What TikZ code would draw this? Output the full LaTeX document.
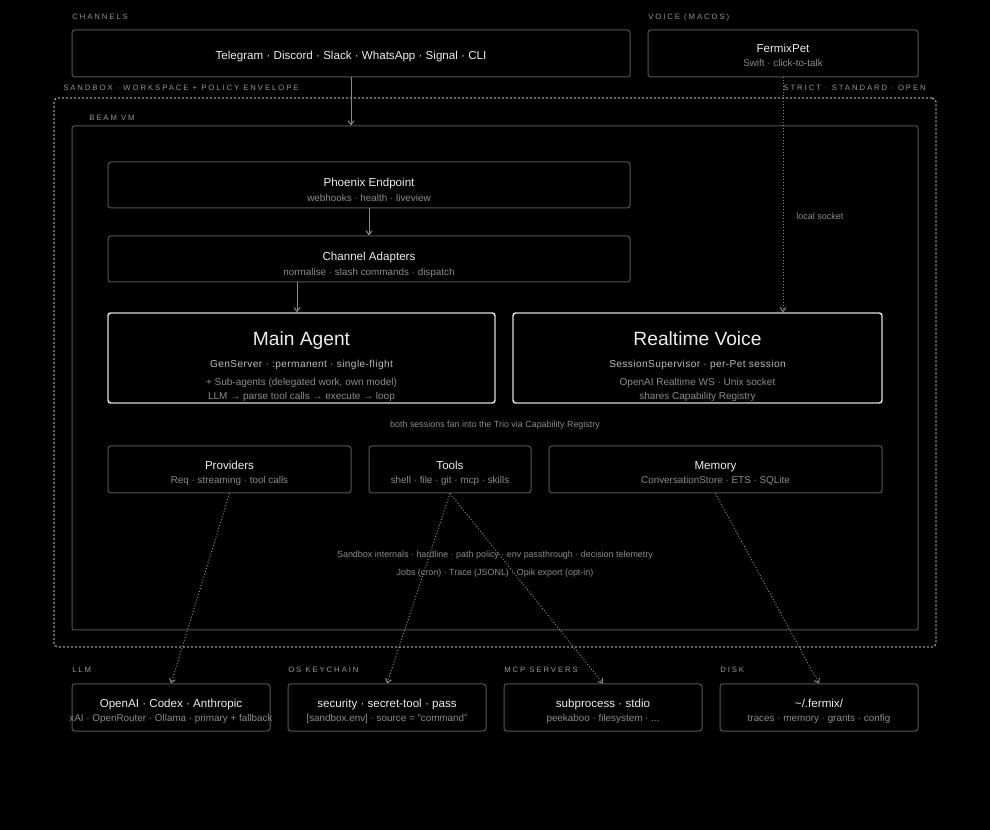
\documentclass[tikz,border=0pt]{standalone}
\usepackage{fontspec}
\setmainfont{Liberation Sans}
\newfontfamily\tagfont[LetterSpace=25]{Liberation Sans}
\newfontfamily\widefont[LetterSpace=4]{Liberation Sans}
\usepackage{xcolor}
\usetikzlibrary{arrows.meta,positioning,calc,fit}

\definecolor{edge}{HTML}{555555}
\definecolor{bright}{HTML}{DDDDDD}
\definecolor{fg}{HTML}{EDEDED}
\definecolor{dim}{HTML}{8C8C8C}
\definecolor{tagc}{HTML}{969696}
\definecolor{wire}{HTML}{8A8A8A}
\definecolor{subhi}{HTML}{BBBBBB}
\definecolor{envelope}{HTML}{9A9A9A}

\begin{document}
\begin{tikzpicture}[
  x=0.75pt, y=-0.75pt,
  box/.style={draw=edge, line width=0.75pt, rounded corners=2pt, inner sep=0pt},
  core/.style={box, draw=bright, line width=1.1pt},
  ttl/.style={anchor=base, text=fg, inner sep=0pt, font=\fontsize{8.7}{10}\selectfont},
  big/.style={anchor=base, text=fg, inner sep=0pt, font=\fontsize{14.4}{16}\selectfont},
  sub/.style={anchor=base, text=dim, inner sep=0pt, font=\fontsize{7.4}{9}\selectfont},
  subhead/.style={anchor=base, text=subhi, inner sep=0pt, font=\widefont\fontsize{7.6}{9}\selectfont},
  note/.style={anchor=base, text=dim, inner sep=0pt, font=\fontsize{6.7}{9}\selectfont},
  tag/.style={anchor=base west, text=tagc, inner sep=0pt, font=\tagfont\fontsize{5.8}{7}\selectfont},
  arr/.style={-{Straight Barb[length=3pt,width=4.5pt]}, draw=wire, line width=0.75pt},
  dotarr/.style={arr, dash pattern=on 0.75pt off 1.5pt}
]

\fill[black] (0,0) rectangle (990,830);
\useasboundingbox (0,0) rectangle (990,830);

% outer frames
\node[draw=envelope, line width=1pt, dash pattern=on 1.5pt off 1.5pt, rounded corners=3pt, inner sep=0pt, fit={(54,98) (936,647)}] (sandbox) {};
\node[box, rounded corners=1.5pt, fit={(72,126) (918,630)}] (beam) {};

\node[tag] (sandbox-tag) at (63,90.3) {SANDBOX · WORKSPACE + POLICY ENVELOPE};
\node[tag, anchor=base east] (mode-tag) at (926,90.3) {STRICT · STANDARD · OPEN};
\node[tag] (beam-tag) at (89,120.7) {BEAM VM};

% inputs
\node[tag] (chan-tag) at (72,19.5) {CHANNELS};
\node[box, fit={(72,30) (630,77)}] (chan) {};
\node[ttl] (chan-t) at ($(chan.center)+(0,6)$) {Telegram · Discord · Slack · WhatsApp · Signal · CLI};

\node[tag] (pet-tag) at (648,19.5) {VOICE (MACOS)};
\node[box, fit={(648,30) (918,77)}] (pet) {};
\node[ttl] (pet-t) at ($(pet.center)+(0,-0.5)$) {FermixPet};
\node[sub] (pet-s) at ($(pet.center)+(0,13.5)$) {Swift · click-to-talk};

% web layer
\node[box, fit={(108,162) (630,208)}] (phx) {};
\node[ttl] (phx-t) at ($(phx.center)+(0,1.5)$) {Phoenix Endpoint};
\node[sub] (phx-s) at ($(phx.center)+(0,16.5)$) {webhooks · health · liveview};

\node[box, fit={(108,236) (630,282)}] (adapt) {};
\node[ttl] (adapt-t) at ($(adapt.center)+(0,1.5)$) {Channel Adapters};
\node[sub] (adapt-s) at ($(adapt.center)+(0,16.5)$) {normalise · slash commands · dispatch};

% sessions
\node[core, fit={(108,313) (495,403)}] (agent) {};
\node[big] (agent-t) at ($(agent.center)+(0,-12)$) {Main Agent};
\node[subhead] (agent-s) at ($(agent.center)+(0,9.3)$) {GenServer · :permanent · single-flight};
\node[sub, font=\fontsize{7.5}{9}\selectfont] (agent-u) at ($(agent.center)+(0,27.3)$) {+ Sub-agents (delegated work, own model)};
\node[sub, font=\fontsize{7.5}{9}\selectfont] (agent-v) at ($(agent.center)+(0,41.5)$) {LLM → parse tool calls → execute → loop};

\node[core, fit={(513,313) (882,403)}] (voice) {};
\node[big] (voice-t) at ($(voice.center)+(0,-12)$) {Realtime Voice};
\node[subhead] (voice-s) at ($(voice.center)+(0,9.3)$) {SessionSupervisor · per-Pet session};
\node[sub, font=\fontsize{7.5}{9}\selectfont] (voice-u) at ($(voice.center)+(0,27.3)$) {OpenAI Realtime WS · Unix socket};
\node[sub, font=\fontsize{7.5}{9}\selectfont] (voice-v) at ($(voice.center)+(0,41.5)$) {shares Capability Registry};

\node[note] (fan) at (495,427.3) {both sessions fan into the Trio via Capability Registry};

% trio
\node[box, fit={(108,446) (351,493)}] (prov) {};
\node[ttl] (prov-t) at ($(prov.center)+(0,0.5)$) {Providers};
\node[sub] (prov-s) at ($(prov.center)+(0,14.5)$) {Req · streaming · tool calls};

\node[box, fit={(369,446) (531,493)}] (tools) {};
\node[ttl] (tools-t) at ($(tools.center)+(0,0.5)$) {Tools};
\node[sub] (tools-s) at ($(tools.center)+(0,14.5)$) {shell · file · git · mcp · skills};

\node[box, fit={(549,446) (882,493)}] (mem) {};
\node[ttl] (mem-t) at ($(mem.center)+(0,0.5)$) {Memory};
\node[sub] (mem-s) at ($(mem.center)+(0,14.5)$) {ConversationStore · ETS · SQLite};

\node[note] (internals) at (495,557.3) {Sandbox internals · hardline · path policy · env passthrough · decision telemetry};
\node[note] (jobs) at (495,575.3) {Jobs (cron) · Trace (JSONL) · Opik export (opt-in)};

% outside world
\node[tag] (llm-tag) at (72,672.7) {LLM};
\node[box, fit={(72,684) (270,731)}] (llm) {};
\node[ttl] (llm-t) at ($(llm.center)+(0,-0.5)$) {OpenAI · Codex · Anthropic};
\node[sub] (llm-s) at ($(llm.center)+(0,13.5)$) {xAI · OpenRouter · Ollama · primary + fallback};

\node[tag] (keys-tag) at (288,672.7) {OS KEYCHAIN};
\node[box, fit={(288,684) (486,731)}] (keys) {};
\node[ttl] (keys-t) at ($(keys.center)+(0,-0.5)$) {security · secret-tool · pass};
\node[sub] (keys-s) at ($(keys.center)+(0,13.5)$) {[sandbox.env] · source = "command"};

\node[tag] (mcp-tag) at (504,672.7) {MCP SERVERS};
\node[box, fit={(504,684) (702,731)}] (mcp) {};
\node[ttl] (mcp-t) at ($(mcp.center)+(0,-0.5)$) {subprocess · stdio};
\node[sub] (mcp-s) at ($(mcp.center)+(0,13.5)$) {peekaboo · filesystem · ...};

\node[tag] (disk-tag) at (720,672.7) {DISK};
\node[box, fit={(720,684) (918,731)}] (disk) {};
\node[ttl] (disk-t) at ($(disk.center)+(0,-0.5)$) {\textasciitilde/.fermix/};
\node[sub] (disk-s) at ($(disk.center)+(0,13.5)$) {traces · memory · grants · config};

% connectors
\coordinate (drop) at ($(agent.north)+(-4.5,0)$);
\draw[arr] (chan.south) -- (chan.south |- beam.north);
\draw[dotarr] (pet.south) -- (pet.south |- voice.north);
\node[note, anchor=base west, font=\fontsize{6.75}{8}\selectfont] (sock) at (796,219.3) {local socket};
\draw[arr] (phx) -- (adapt);
\draw[arr] (adapt.south -| drop) -- (drop);

\draw[dotarr] (prov.south) -- (llm.north);
\draw[dotarr] (tools.south) -- (keys.north);
\draw[dotarr] (tools.south) -- (mcp.north);
\draw[dotarr] (mem.south) -- (disk.north);

\end{tikzpicture}
\end{document}
